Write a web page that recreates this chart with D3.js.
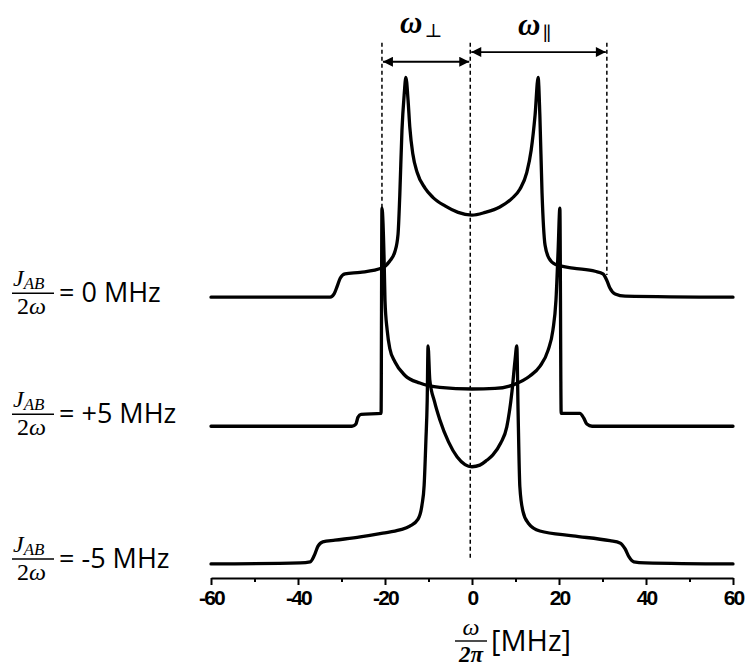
<!DOCTYPE html>
<html>
<head>
<meta charset="utf-8">
<script src="https://cdn.jsdelivr.net/npm/d3@7"></script>
<style>
  body { margin: 0; background: #fff; }
  text { fill: #000; }
</style>
</head>
<body>
<svg id="chart"></svg>
<script>
// tick values
const xTicks = [-60, -40, -20, 0, 20, 40, 60];
const xMinorTicks = [-50, -30, -10, 10, 30, 50];

// spectrum labels (J_AB / 2w) and vertical offsets of each trace
const labels = ["= 0 MHz", "= +5 MHz", "= -5 MHz"];
const offsets = [52.0, 28.1, 2.6];

// traces: [frequency MHz, intensity above own baseline]
const specZero = [[-60,0],[-32.6,0],[-31.7,0.6],[-31.0,2.0],[-30.3,3.5],[-29.2,4.3],[-25.7,4.6],[-20.7,5.4],
  [-18.9,6.7],[-17.7,8.5],[-17.0,11.7],[-16.6,18.9],[-16.1,30.9],[-15.6,37.4],[-15.2,40.7],[-14.7,36.5],
  [-14.3,31.5],[-13.6,26.5],[-12.6,23.1],[-10.8,20.2],[-9.0,18.5],[-6.2,16.9],[-3.2,15.7],[0,15.2],
  [3.0,15.7],[6.4,16.7],[9.2,18.3],[11.0,20.0],[12.6,23.1],[13.6,27.2],[14.5,33.7],[15.2,40.7],
  [15.6,33.7],[16.1,19.3],[16.8,9.6],[17.7,7.2],[19.1,6.1],[23.2,5.4],[28.3,4.8],[30.1,4.3],
  [31.0,3.1],[31.7,1.7],[32.9,0.6],[35.2,0.2],[60,0]];

const specPlus5 = [[-60,0],[-27.6,0],[-26.7,0.4],[-26.2,1.7],[-25.5,2.2],[-20.9,2.4],[-20.7,40.4],
  [-20.2,30.7],[-20.0,23.3],[-19.5,17.8],[-18.9,14.4],[-17.7,11.9],[-15.4,9.4],[-12.0,8.0],[-7.4,7.2],
  [0,6.9],[5.3,7.0],[9.9,7.8],[13.3,9.3],[15.6,11.1],[17.5,14.1],[18.6,17.8],[19.3,23.3],[19.8,32.6],
  [20.2,40.4],[20.5,2.4],[24.8,2.4],[25.7,1.5],[26.4,0.4],[27.6,0],[60,0]];

const specMinus5 = [[-60,0],[-39.5,0.2],[-37.2,0.4],[-36.3,1.5],[-35.4,3.3],[-34.3,4.1],[-31.5,4.4],
  [-25.7,5.0],[-20.5,5.7],[-16.6,6.3],[-14.3,7.0],[-12.4,8.3],[-11.5,10.9],[-11.0,14.6],[-10.6,22.8],
  [-10.3,30.2],[-10.1,40.4],[-9.7,34.1],[-8.6,30.0],[-7.4,26.7],[-5.4,22.6],[-3.4,19.8],[-1.6,18.4],[0,18.0],
  [1.8,18.3],[3.4,19.2],[4.8,20.2],[6.6,22.4],[8.0,25.4],[9.2,32.0],[9.9,37.8],[10.3,40.4],[10.6,28.0],
  [11.0,14.3],[11.7,9.8],[12.9,7.6],[15.6,6.1],
  [23.2,5.2],[31.7,4.3],[34.0,3.9],[35.2,2.8],[36.1,1.3],[37.2,0.4],[39.8,0.2],[60,0]];

const spectra = [specZero, specPlus5, specMinus5];

// guide lines: x position, top and bottom (same units as the traces)
const guides = [[-20.7, 99.1, 68.7], [-0.4, 99.1, 3.7], [31.0, 99.1, 56.1]];

const width = 746, height = 670;

const svg = d3.select("#chart")
  .attr("width", width)
  .attr("height", height);

svg.append("rect").attr("width", width).attr("height", height).attr("fill", "#fff");

const x = d3.scaleLinear().domain([-60, 60]).range([211, 733]);
const y = d3.scaleLinear().domain([0, 100]).range([578, 38]);

// dashed guides
svg.selectAll(".guide")
  .data(guides)
  .enter().append("line")
  .attr("x1", d => x(d[0])).attr("x2", d => x(d[0]))
  .attr("y1", d => y(d[1])).attr("y2", d => y(d[2]))
  .attr("stroke", "#000")
  .attr("stroke-width", 1.5)
  .attr("stroke-dasharray", "4,3");

// arrows
const defs = svg.append("defs");
defs.append("marker")
  .attr("id", "head")
  .attr("viewBox", "0 0 10 10")
  .attr("refX", 10).attr("refY", 5)
  .attr("markerWidth", 14).attr("markerHeight", 10)
  .attr("markerUnits", "userSpaceOnUse")
  .attr("orient", "auto-start-reverse")
  .append("path").attr("d", "M0,0L10,5L0,10Z").attr("fill", "#000");

const arrows = [[-20.7, -0.4, 95.6], [-0.4, 31.0, 97.4]];
svg.selectAll(".arrow")
  .data(arrows)
  .enter().append("line")
  .attr("x1", d => x(d[0]) + 1).attr("x2", d => x(d[1]) - 1)
  .attr("y1", d => y(d[2])).attr("y2", d => y(d[2]))
  .attr("stroke", "#000")
  .attr("stroke-width", 1.8)
  .attr("marker-start", "url(#head)")
  .attr("marker-end", "url(#head)");

// omega labels above the arrows
const omegaLab = svg.append("g")
  .attr("font-family", "Liberation Serif, DejaVu Serif, serif")
  .attr("font-weight", "bold");
const wPerp = omegaLab.append("text")
  .attr("x", 400).attr("y", 33)
  .attr("font-size", 31);
wPerp.append("tspan").attr("font-style", "italic").text("ω");
wPerp.append("tspan").attr("font-size", 19).attr("dy", 4).attr("dx", 2).attr("font-weight", "normal").text("⊥");
const wPar = omegaLab.append("text")
  .attr("x", 518).attr("y", 35)
  .attr("font-size", 31);
wPar.append("tspan").attr("font-style", "italic").text("ω");
wPar.append("tspan").attr("font-size", 19).attr("dy", 5).attr("dx", 2).attr("font-weight", "normal").text("∥");

// spectra
const line = d3.line()
  .curve(d3.curveMonotoneX)
  .x(d => x(d[0]));

spectra.forEach((s, i) => {
  svg.append("path")
    .attr("d", line.y(d => y(d[1] + offsets[i]))(s))
    .attr("fill", "none")
    .attr("stroke", "#000")
    .attr("stroke-width", 3.3)
    .attr("stroke-linejoin", "round")
    .attr("stroke-linecap", "round");
});

// left labels (small per-row nudge to sit like the original)
const labelNudge = [2, -6, 1];
const lab = svg.selectAll(".lab")
  .data(labels)
  .enter().append("g")
  .attr("transform", (d, i) => `translate(0, ${y(offsets[i]) + labelNudge[i]})`);

lab.append("text")
  .attr("x", 13).attr("y", -13)
  .attr("font-family", "Liberation Serif, serif")
  .attr("font-style", "italic")
  .attr("font-size", 24)
  .call(t => {
    t.append("tspan").text("J");
    t.append("tspan").attr("font-size", 17).attr("dy", 3).text("AB");
  });
lab.append("line")
  .attr("x1", 12).attr("x2", 54)
  .attr("y1", -6).attr("y2", -6)
  .attr("stroke", "#000").attr("stroke-width", 1.4);
lab.append("text")
  .attr("x", 17).attr("y", 15)
  .attr("font-family", "Liberation Serif, serif")
  .attr("font-size", 24)
  .call(t => {
    t.append("tspan").text("2");
    t.append("tspan").attr("font-style", "italic").text("ω");
  });
lab.append("text")
  .attr("x", 59).attr("y", 3)
  .attr("font-family", "Open Sans, sans-serif")
  .attr("font-size", 27)
  .text(d => d);

// x axis
const axis = svg.append("g")
  .attr("transform", `translate(0, ${y(0)})`)
  .call(d3.axisBottom(x).tickValues(xTicks).tickSize(7).tickSizeOuter(0).tickPadding(5)
    .tickFormat(d => String(d)));
axis.select(".domain").attr("stroke-width", 2);
axis.selectAll(".tick line").attr("stroke-width", 2);
axis.selectAll(".tick text")
  .attr("font-family", "Liberation Sans, Arial, sans-serif")
  .attr("font-weight", "bold")
  .attr("font-size", 21)
  .attr("letter-spacing", -1.8)
  .attr("fill", "#000");

svg.append("g")
  .attr("transform", `translate(0, ${y(0)})`)
  .call(d3.axisBottom(x).tickValues(xMinorTicks).tickSize(4).tickFormat(""))
  .call(g => g.select(".domain").remove())
  .selectAll(".tick line").attr("stroke-width", 2);

// x axis title: w / 2pi [MHz]
const xt = svg.append("g").attr("transform", `translate(${x(0) - 1}, 641)`);
xt.append("text")
  .attr("x", 0).attr("y", -6)
  .attr("text-anchor", "middle")
  .attr("font-family", "Liberation Serif, serif")
  .attr("font-style", "italic")
  .attr("font-size", 24)
  .text("ω");
xt.append("line")
  .attr("x1", -16).attr("x2", 16).attr("y1", 0).attr("y2", 0)
  .attr("stroke", "#000").attr("stroke-width", 1.4);
xt.append("text")
  .attr("x", 0).attr("y", 21)
  .attr("text-anchor", "middle")
  .attr("font-family", "Liberation Serif, serif")
  .attr("font-style", "italic")
  .attr("font-weight", "bold")
  .attr("font-size", 23)
  .text("2π");
xt.append("text")
  .attr("x", 20).attr("y", 10)
  .attr("font-family", "Open Sans, sans-serif")
  .attr("font-size", 29)
  .text("[MHz]");
</script>
</body>
</html>
